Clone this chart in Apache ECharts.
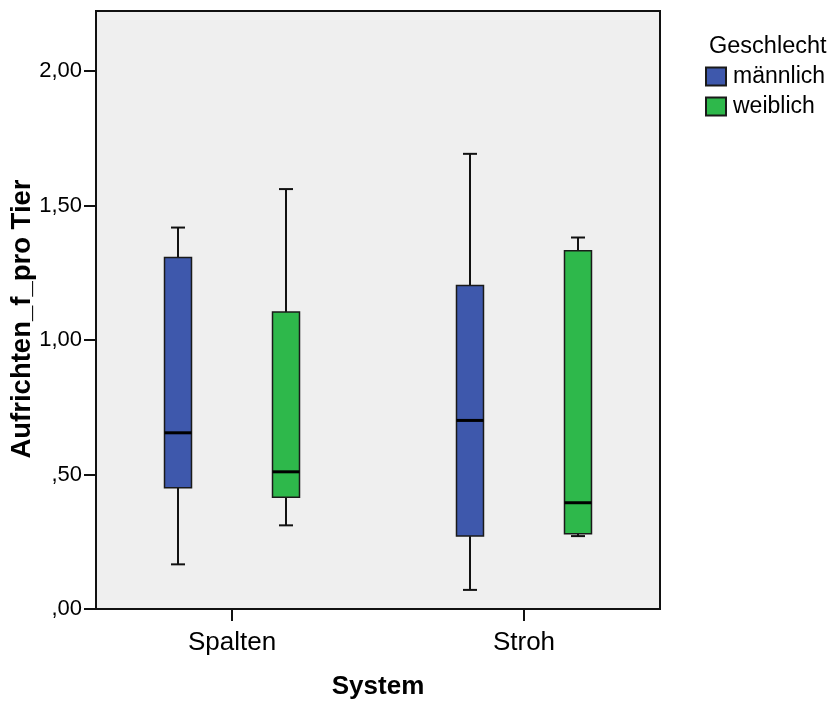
<!DOCTYPE html>
<html>
<head>
<meta charset="utf-8">
<title>Aufrichten_f_pro Tier</title>
<script src="https://cdn.jsdelivr.net/npm/echarts@6/dist/echarts.min.js"></script>
<style>
  html, body { margin: 0; padding: 0; background: #fff; }
  #chart { width: 831px; height: 702px; }
</style>
</head>
<body>
<div id="chart"></div>
<script>
// categories on the x axis
var systems = ['Spalten', 'Stroh']
var groups = ['männlich', 'weiblich']

// [min, Q1, median, Q3, max] per system
var maennlich = [
  [0.166, 0.451, 0.655, 1.307, 1.418],
  [0.071, 0.271, 0.701, 1.203, 1.692]
]
var weiblich = [
  [0.311, 0.415, 0.510, 1.104, 1.561],
  [0.271, 0.280, 0.395, 1.332, 1.381]
]

var yTicks = [0, 0.5, 1, 1.5, 2]

var font = '"Liberation Sans", Arial, Helvetica, sans-serif'
var colors = ['#3e58ac', '#2eb84b']
var BOX_W = 27
var CAP_W = 14

function toRows(stats) {
  return stats.map(function (s, i) { return [i].concat(s) })
}

function makeRender(offset) {
  return function (params, api) {
    var x = api.coord([api.value(0), 0])[0] + offset
    var yMin = api.coord([0, api.value(1)])[1]
    var yQ1 = api.coord([0, api.value(2)])[1]
    var yMed = api.coord([0, api.value(3)])[1]
    var yQ3 = api.coord([0, api.value(4)])[1]
    var yMax = api.coord([0, api.value(5)])[1]
    var line = { stroke: '#111', lineWidth: 2 }
    return {
      type: 'group',
      children: [
        { type: 'line', shape: { x1: x, y1: yMax, x2: x, y2: yQ3 }, style: line },
        { type: 'line', shape: { x1: x, y1: yQ1, x2: x, y2: yMin }, style: line },
        { type: 'line', shape: { x1: x - CAP_W / 2, y1: yMax, x2: x + CAP_W / 2, y2: yMax }, style: line },
        { type: 'line', shape: { x1: x - CAP_W / 2, y1: yMin, x2: x + CAP_W / 2, y2: yMin }, style: line },
        {
          type: 'rect',
          shape: { x: x - BOX_W / 2, y: yQ3, width: BOX_W, height: yQ1 - yQ3 },
          style: { fill: api.visual('color'), stroke: '#1a1a1a', lineWidth: 1.5 }
        },
        { type: 'line', shape: { x1: x - BOX_W / 2, y1: yMed, x2: x + BOX_W / 2, y2: yMed }, style: { stroke: '#000', lineWidth: 3 } }
      ]
    }
  }
}

var chart = echarts.init(document.getElementById('chart'), null, { renderer: 'canvas' })
chart.setOption({
  animation: false,
  textStyle: { fontFamily: font },
  title: {
    text: 'Geschlecht',
    left: 704,
    top: 30,
    textStyle: { fontFamily: font, fontWeight: 'normal', fontSize: 23.5, color: '#000' }
  },
  legend: {
    data: groups,
    orient: 'vertical',
    left: 705,
    top: 65,
    padding: 0,
    icon: 'rect',
    itemWidth: 20,
    itemHeight: 18,
    itemGap: 7,
    textStyle: { fontFamily: font, fontSize: 23, color: '#000', padding: [0, 0, 0, 2] }
  },
  grid: {
    left: 96,
    top: 11,
    right: 171,
    bottom: 93,
    outerBoundsMode: 'none',
    containLabel: false,
    show: true,
    backgroundColor: '#efefef',
    borderColor: '#111',
    borderWidth: 2
  },
  xAxis: {
    type: 'value',
    min: -0.4658,
    max: 1.4658,
    name: 'System',
    nameLocation: 'middle',
    nameGap: 65,
    nameMoveOverlap: false,
    nameTextStyle: { fontFamily: font, fontSize: 26, fontWeight: 'bold', color: '#000' },
    axisLine: { show: true, onZero: false, lineStyle: { color: '#111', width: 2 } },
    axisTick: { show: true, customValues: [0, 1], length: 12, lineStyle: { color: '#111', width: 2 } },
    axisLabel: {
      customValues: [0, 1],
      margin: 21,
      fontFamily: font,
      fontSize: 26,
      color: '#000',
      formatter: function (v) { return systems[Math.round(v)] }
    },
    splitLine: { show: false }
  },
  yAxis: {
    type: 'value',
    min: 0,
    max: 2.223,
    interval: 0.5,
    name: 'Aufrichten_f_pro Tier',
    nameLocation: 'middle',
    nameGap: 60,
    nameMoveOverlap: false,
    nameTextStyle: { fontFamily: font, fontSize: 27.5, fontWeight: 'bold', color: '#000', padding: [0, 18, 0, 0] },
    axisLine: { show: true, onZero: false, lineStyle: { color: '#111', width: 2 } },
    axisTick: { show: true, customValues: yTicks, length: 12, lineStyle: { color: '#111', width: 2 } },
    axisLabel: {
      margin: 14,
      fontFamily: font,
      fontSize: 22,
      color: '#000',
      customValues: yTicks,
      formatter: function (v) { return v.toFixed(2).replace('.', ',').replace(/^0/, '') }
    },
    splitLine: { show: false }
  },
  series: [
    {
      name: groups[0],
      type: 'custom',
      itemStyle: { color: colors[0], borderColor: '#1a1a1a', borderWidth: 1.5 },
      encode: { x: 0, y: [1, 2, 3, 4, 5] },
      data: toRows(maennlich),
      renderItem: makeRender(-54)
    },
    {
      name: groups[1],
      type: 'custom',
      itemStyle: { color: colors[1], borderColor: '#1a1a1a', borderWidth: 1.5 },
      encode: { x: 0, y: [1, 2, 3, 4, 5] },
      data: toRows(weiblich),
      renderItem: makeRender(54)
    }
  ]
})
</script>
</body>
</html>
